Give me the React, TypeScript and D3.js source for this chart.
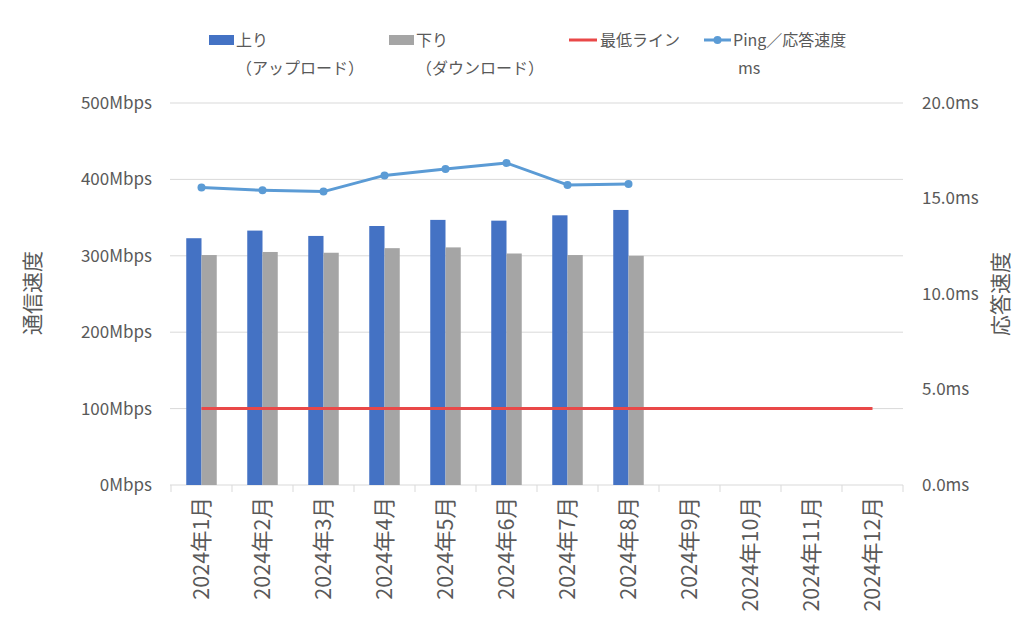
import React from "react";
import * as d3 from "d3";

const months = ["2024年1月","2024年2月","2024年3月","2024年4月","2024年5月","2024年6月","2024年7月","2024年8月","2024年9月","2024年10月","2024年11月","2024年12月"];
const upload = [323, 333, 326, 339, 347, 346, 353, 360];
const download = [301, 305, 304, 310, 311, 303, 301, 300];
const minLine = [100,100,100,100,100,100,100,100,100,100,100,100];
const ping = [15.57, 15.43, 15.36, 16.21, 16.54, 16.86, 15.71, 15.76];
const leftTicks = [0, 100, 200, 300, 400, 500];
const rightTicks = [0, 5, 10, 15, 20];

const W = 1024, H = 632;
const L = 171, R = 903, T = 103, B = 485;
const FONT = "'Noto Sans CJK JP', 'Noto Sans', sans-serif";
const TXT = "#595959";

export default function App() {
  const x = d3.scaleBand<string>().domain(months).range([L, R]).paddingInner(0).paddingOuter(0);
  const yL = d3.scaleLinear().domain([0, 500]).range([B, T]);
  const yR = d3.scaleLinear().domain([0, 20]).range([B, T]);
  const bw = x.bandwidth() * 0.25;
  const cx = (m: string) => (x(m) as number) + x.bandwidth() / 2;

  const pingLine = d3.line<number>().x((_, i) => cx(months[i])).y(d => yR(d));
  const minPath = d3.line<number>().x((_, i) => cx(months[i])).y(d => yL(d));

  return (
    <svg width={W} height={H} style={{ position: "absolute", left: 0, top: 0, background: "#fff" }} fontFamily={FONT}>
      <rect x={0} y={0} width={W} height={H} fill="#fff" />
      {leftTicks.map(t => (
        <line key={"g" + t} x1={L - 1} x2={R} y1={yL(t)} y2={yL(t)} stroke="#d9d9d9" strokeWidth={1} />
      ))}
      {d3.range(months.length + 1).map(i => {
        const xx = L + i * x.bandwidth();
        return <line key={"t" + i} x1={xx} x2={xx} y1={B} y2={B + 7} stroke="#d9d9d9" strokeWidth={1} />;
      })}
      {leftTicks.map(t => (
        <text key={"l" + t} x={152} y={yL(t)} dy="0.35em" textAnchor="end" fontSize={17} fill={TXT}>{t}Mbps</text>
      ))}
      {rightTicks.map(t => (
        <text key={"r" + t} x={922} y={yR(t)} dy="0.35em" textAnchor="start" fontSize={17} fill={TXT}>{t.toFixed(1)}ms</text>
      ))}
      {upload.map((v, i) => (
        <rect key={"u" + i} x={cx(months[i]) - bw} y={yL(v)} width={bw} height={B - yL(v)} fill="#4472c4" />
      ))}
      {download.map((v, i) => (
        <rect key={"d" + i} x={cx(months[i])} y={yL(v)} width={bw} height={B - yL(v)} fill="#a5a5a5" />
      ))}
      <path d={minPath(minLine) || ""} fill="none" stroke="#e94848" strokeWidth={3} />
      <path d={pingLine(ping) || ""} fill="none" stroke="#5b9bd5" strokeWidth={3} strokeLinejoin="round" />
      {ping.map((v, i) => (
        <circle key={"p" + i} cx={cx(months[i])} cy={yR(v)} r={4} fill="#5b9bd5" />
      ))}
      {months.map(m => (
        <text key={m} transform={`translate(${cx(m)},${497}) rotate(-90)`} dy="0.35em" textAnchor="end" fontSize={21.5} fill={TXT}>{m}</text>
      ))}
      <text transform={`translate(33,293) rotate(-90)`} dy="0.35em" textAnchor="middle" fontSize={21} fill={TXT}>通信速度</text>
      <text transform={`translate(1001,294) rotate(-90)`} dy="0.35em" textAnchor="middle" fontSize={21} fill={TXT}>応答速度</text>
      <rect x={209} y={35} width={25} height={10} fill="#4472c4" />
      <text x={236} y={40} dy="0.35em" fontSize={16} fill={TXT}>上り</text>
      <text x={236} y={68} dy="0.35em" fontSize={16} fill={TXT}>（アップロード）</text>
      <rect x={389} y={35} width={25} height={10} fill="#a5a5a5" />
      <text x={416} y={40} dy="0.35em" fontSize={16} fill={TXT}>下り</text>
      <text x={416} y={68} dy="0.35em" fontSize={16} fill={TXT}>（ダウンロード）</text>
      <line x1={569} x2={597} y1={40} y2={40} stroke="#e94848" strokeWidth={3} />
      <text x={600} y={40} dy="0.35em" fontSize={16} fill={TXT}>最低ライン</text>
      <line x1={704} x2={731} y1={40} y2={40} stroke="#5b9bd5" strokeWidth={3} />
      <circle cx={717.5} cy={40} r={4} fill="#5b9bd5" />
      <text x={733} y={40} dy="0.35em" fontSize={16} fill={TXT}>Ping／応答速度</text>
      <text x={738} y={68} dy="0.35em" fontSize={16} fill={TXT}>ms</text>
    </svg>
  );
}
